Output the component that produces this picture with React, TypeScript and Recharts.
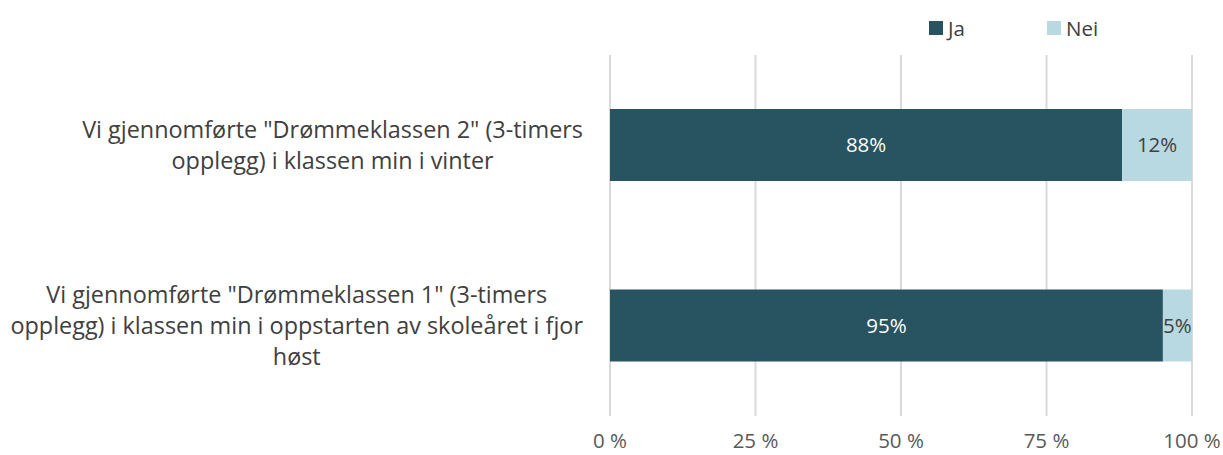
import React from 'react';
import {
  BarChart,
  Bar,
  XAxis,
  YAxis,
  CartesianGrid,
  LabelList,
} from 'recharts';

const categories = [
  ['Vi gjennomførte "Drømmeklassen 2" (3-timers', 'opplegg) i klassen min i vinter'],
  ['Vi gjennomførte "Drømmeklassen 1" (3-timers', 'opplegg) i klassen min i oppstarten av skoleåret i fjor', 'høst'],
];
const jaValues = [88, 95];
const neiValues = [12, 5];
const xTicks = [0, 25, 50, 75, 100];
const seriesNames = ['Ja', 'Nei'];

const JA = '#285360';
const NEI = '#b8d9e2';
const FONT = '"Open Sans", sans-serif';
const CAT_SIZE = 23.4;
const LABEL_SIZE = 20.5;

const data = categories.map((lines, i) => ({
  name: lines.join(' '),
  lines,
  ja: jaValues[i],
  nei: neiValues[i],
}));

let ctx: CanvasRenderingContext2D | null = null;
function measure(text: string) {
  if (!ctx) ctx = document.createElement('canvas').getContext('2d');
  if (!ctx) return text.length * 11;
  ctx.font = `${CAT_SIZE}px "Open Sans"`;
  return ctx.measureText(text).width;
}

// category label: lines centered in a block that sits right next to the axis
function CategoryTick(props: any) {
  const { x, y, payload } = props;
  const row = data.find(d => d.name === payload.value);
  const lines = row ? row.lines : [payload.value];
  const maxW = Math.max(...lines.map(measure));
  const cx = x - 19 - maxW / 2;
  const lh = 31;
  const top = y - ((lines.length - 1) * lh) / 2;
  return (
    <text x={cx} y={top} textAnchor="middle" fill="#404040" fontSize={CAT_SIZE} fontFamily={FONT}>
      {lines.map((l, i) => (
        <tspan key={i} x={cx} y={top + i * lh} dy="0.35em">{l}</tspan>
      ))}
    </text>
  );
}

function ChartLegend() {
  const colors = [JA, NEI];
  return (
    <div
      style={{
        position: 'absolute',
        left: 929,
        top: 14,
        display: 'flex',
        fontFamily: FONT,
        fontSize: LABEL_SIZE,
        color: '#404040',
      }}
    >
      {seriesNames.map((n, i) => (
        <div key={n} style={{ display: 'flex', alignItems: 'center', width: 118, height: 28 }}>
          <span style={{ width: 14, height: 14, background: colors[i], marginRight: 5 }} />
          <span>{n}</span>
        </div>
      ))}
    </div>
  );
}

export default function App() {
  return (
    <div style={{ position: 'absolute', left: 0, top: 0, width: 1223, height: 455, background: '#fff' }}>
      <BarChart
        width={1223}
        height={455}
        data={data}
        layout="vertical"
        margin={{ top: 55, right: 31, left: 0, bottom: 0 }}
      >
        <CartesianGrid horizontal={false} stroke="#d9d9d9" strokeWidth={2} />
        <XAxis
          type="number"
          domain={[0, 100]}
          ticks={xTicks}
          axisLine={false}
          tickLine={false}
          height={39}
          tickMargin={11}
          tickFormatter={v => `${v} %`}
          tick={{ fontSize: LABEL_SIZE, fontFamily: FONT, fill: '#595959' }}
        />
        <YAxis
          type="category"
          dataKey="name"
          width={610}
          axisLine={false}
          tickLine={false}
          tick={<CategoryTick />}
        />
        <Bar dataKey="ja" name={seriesNames[0]} stackId="a" fill={JA} barSize={72} isAnimationActive={false}>
          <LabelList
            dataKey="ja"
            position="center"
            formatter={(v: any) => `${v}%`}
            fill="#ffffff"
            fontSize={LABEL_SIZE}
            fontFamily={FONT}
          />
        </Bar>
        <Bar dataKey="nei" name={seriesNames[1]} stackId="a" fill={NEI} barSize={72} isAnimationActive={false}>
          <LabelList
            dataKey="nei"
            position="center"
            formatter={(v: any) => `${v}%`}
            fill="#404040"
            fontSize={LABEL_SIZE}
            fontFamily={FONT}
          />
        </Bar>
      </BarChart>
      <ChartLegend />
    </div>
  );
}
